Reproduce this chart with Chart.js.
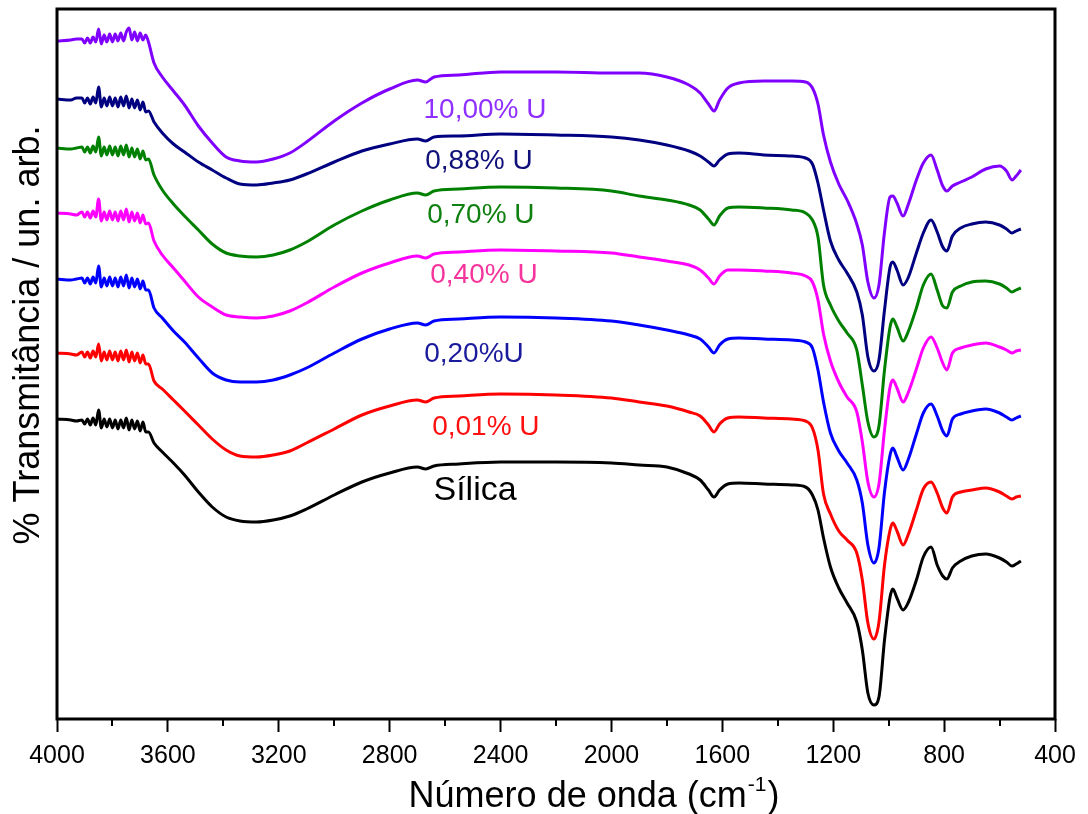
<!DOCTYPE html>
<html>
<head>
<meta charset="utf-8">
<script src="https://cdn.jsdelivr.net/npm/chart.js@4.4.1/dist/chart.umd.min.js"></script>
<style>
html,body{margin:0;padding:0;background:#fff;}
#wrap{width:1088px;height:814px;position:relative;}
</style>
</head>
<body>
<div id="wrap"><canvas id="c"></canvas></div>
<script>
// Wavenumber grid (cm^-1), shared by all spectra
const wavenumbers = [4000,3950,3930,3910,3900,3890,3880,3870,3860,3850,
  3840,3830,3820,3810,3800,3790,3780,3770,3760,3750,
  3740,3730,3720,3710,3700,3690,3680,3670,
  3650,3620,3580,3540,3490,3440,3390,3340,3280,3220,
  3160,3100,3000,2900,2800,2700,2670,2640,2550,2400,
  2200,2000,1900,1800,1720,1680,1650,1630,1610,1580,
  1540,1450,1350,1300,1275,1255,1235,1210,1180,1150,
  1115,1095,1075,1053,1035,1015,995,985,970,948,
  930,900,875,847,825,805,790,770,740,700,
  650,600,575,555,540,523];

// % Transmittance (arbitrary units, stacked)
const silica = [300,299,298,299,295,300,294,301,294,309,
  291,300,292,300,291,299,290,299,291,301,
  289,299,290,298,288,297,287,287,
  276,267,256,244,227,212,202,198,197,199,
  203,210,224,237,246,252,250,253,255,257,
  257,256,254,252,245,239,229,222,229,235,
  236,235,234,232,224,209,181,152,131,116,
  97,69,26,14,22,79,122,130,121,109,
  116,139,162,172,154,143,140,151,158,163,
  165,161,157,153,155,158];
const u001 = [366,365,364,367,362,367,361,368,362,375,
  358,367,359,368,359,367,358,368,359,369,
  357,367,358,366,356,364,355,355,
  338,330,319,308,294,280,269,263,262,264,
  268,276,290,304,313,319,317,321,323,325,
  324,321,317,313,307,303,294,287,295,301,
  302,301,300,298,291,269,225,205,188,179,
  166,139,96,80,97,154,189,196,188,174,
  184,209,230,237,226,211,206,222,227,229,
  231,227,223,220,222,223];
const u020 = [440,439,440,441,436,441,435,442,436,453,
  432,441,433,442,433,441,432,442,433,444,
  431,441,432,440,430,438,429,429,
  411,401,388,377,361,346,339,337,337,339,
  344,351,366,380,390,396,394,398,400,402,
  401,398,394,389,384,380,372,366,374,380,
  381,380,379,377,371,349,317,286,268,256,
  239,216,174,156,171,227,264,271,262,249,
  259,285,306,315,303,288,283,300,305,308,
  310,306,302,299,301,303];
const u040 = [506,505,504,507,502,507,501,508,502,520,
  498,507,499,508,499,507,498,508,499,510,
  497,507,498,506,496,504,495,496,
  478,464,451,438,422,412,404,402,401,403,
  408,416,432,446,456,463,461,465,467,469,
  468,466,462,458,454,449,441,435,443,449,
  449,448,446,443,437,419,385,358,337,322,
  307,277,237,222,235,289,332,339,331,317,
  326,350,371,382,371,356,349,366,371,374,
  376,372,369,366,368,369];
const u070 = [571,570,571,572,567,572,566,573,567,582,
  563,572,564,573,564,572,563,573,564,574,
  562,571,562,570,560,568,559,560,
  544,529,515,503,489,475,466,463,462,464,
  469,477,494,508,519,526,524,528,530,532,
  531,528,523,519,514,509,500,494,503,511,
  512,511,509,506,499,482,434,414,398,386,
  369,334,297,282,293,349,392,400,392,378,
  387,411,434,445,429,413,411,427,433,437,
  438,435,431,427,429,431];
const u088 = [620,619,621,621,616,621,615,622,616,632,
  612,621,613,622,613,621,612,622,613,623,
  611,620,611,619,609,617,607,608,
  597,586,575,567,557,549,541,535,534,536,
  539,545,557,568,575,580,578,582,583,585,
  584,582,579,574,568,563,557,553,559,565,
  566,564,563,561,555,536,509,478,459,446,
  427,404,362,348,359,409,452,457,449,434,
  441,466,486,499,487,472,468,483,491,495,
  497,494,490,486,488,490];
const u1000 = [678,679,680,680,676,681,676,682,677,690,
  675,684,677,685,677,685,678,686,678,687,
  691,679,687,678,686,679,684,677,
  656,642,628,614,593,576,562,558,557,560,
  566,577,598,616,630,639,637,642,644,647,
  647,646,646,642,634,626,615,608,619,631,
  636,638,638,637,631,615,584,557,535,519,
  495,474,437,421,434,487,522,523,516,503,
  514,539,556,564,549,533,528,533,537,542,
  550,553,548,539,543,549];

const seriesNames = ['Sílica','0,01% U','0,20%U','0,40% U','0,70% U','0,88% U','10,00% U'];
const seriesValues = [silica,u001,u020,u040,u070,u088,u1000];
const xTickValues = [4000,3600,3200,2800,2400,2000,1600,1200,800,400];
const xMinorTicks = [3800,3400,3000,2600,2200,1800,1400,1000,600];
const xTitle = ['Número de onda (cm', '-1', ')'];
const yTitle = '% Transmitância / un. arb.';

// styles (kept separate from data)
const lineColors = ['#000000','#ff0000','#0000ff','#ff00ff','#008000','#000080','#8000ff'];
const labelColors = ['#000000','#ff1010','#1a1a9c','#f5349c','#108010','#10107a','#9030ff'];
const labelFontSizes = [34,28,28,28,28,28,28];
// label anchor (center x in cm^-1, baseline in transmittance units)
const labelAnchors = [[2492,219],[2453,284],[2496,357],[2460,436],[2471,496],[2478,550],[2456,601]];

const FONT = 'Arial, "Liberation Sans", Helvetica, sans-serif';

const framePlugin = {
  id: 'frame',
  afterDatasetsDraw(chart) {
    const {ctx, chartArea: a, scales: {x, y}} = chart;
    ctx.save();
    ctx.strokeStyle = '#000';
    ctx.lineWidth = 3;
    ctx.strokeRect(a.left, a.top, a.right - a.left, a.bottom - a.top);
    ctx.lineWidth = 2;
    ctx.beginPath();
    xMinorTicks.forEach(v => {
      const px = Math.round(x.getPixelForValue(v));
      ctx.moveTo(px, a.bottom);
      ctx.lineTo(px, a.bottom + 7);
    });
    ctx.stroke();
    ctx.textAlign = 'center';
    ctx.textBaseline = 'alphabetic';
    seriesNames.forEach((n, i) => {
      ctx.font = labelFontSizes[i] + 'px ' + FONT;
      ctx.fillStyle = labelColors[i];
      ctx.fillText(n, x.getPixelForValue(labelAnchors[i][0]), y.getPixelForValue(labelAnchors[i][1]));
    });
    // x title with superscript
    ctx.fillStyle = '#000';
    ctx.textAlign = 'left';
    const big = '36px ' + FONT, small = '21px ' + FONT;
    ctx.font = big;
    const w1 = ctx.measureText(xTitle[0]).width;
    const w3 = ctx.measureText(xTitle[2]).width;
    ctx.font = small;
    const w2 = ctx.measureText(xTitle[1]).width;
    const sx = 593 - (w1 + w2 + w3) / 2;
    const by = 807;
    ctx.font = big;
    ctx.fillText(xTitle[0], sx, by);
    ctx.font = small;
    ctx.fillText(xTitle[1], sx + w1 + 1, by - 16);
    ctx.font = big;
    ctx.fillText(xTitle[2], sx + w1 + w2 + 2, by);
    // y title
    ctx.translate(29, 335);
    ctx.rotate(-Math.PI / 2);
    ctx.textAlign = 'center';
    ctx.textBaseline = 'middle';
    ctx.font = big;
    ctx.fillText(yTitle, 0, 0);
    ctx.restore();
  }
};

const datasets = seriesValues.map((vals, i) => ({
  label: seriesNames[i],
  data: wavenumbers.map((w, j) => ({x: w, y: vals[j]})),
  borderColor: lineColors[i],
  borderWidth: 3,
  pointRadius: 0,
  fill: false,
  cubicInterpolationMode: 'monotone'
}));

new Chart(document.getElementById('c'), {
  type: 'line',
  data: {datasets},
  options: {
    responsive: true,
    maintainAspectRatio: false,
    animation: false,
    layout: {padding: {top: 9, right: 33, left: 0, bottom: 0}},
    plugins: {legend: {display: false}, tooltip: {enabled: false}},
    scales: {
      x: {
        type: 'linear',
        reverse: true,
        min: 400,
        max: 4000,
        afterBuildTicks: s => { s.ticks = xTickValues.map(v => ({value: v})); },
        ticks: {
          autoSkip: false,
          maxRotation: 0,
          color: '#000',
          padding: 9,
          font: {size: 25, family: FONT},
          callback: v => String(v)
        },
        grid: {display: true, drawOnChartArea: false, drawTicks: true, tickLength: 13, tickWidth: 2, tickColor: '#000', color: '#000'},
        border: {display: false},
        afterFit: s => { s.height = 95; }
      },
      y: {
        min: 0,
        max: 710,
        ticks: {display: false},
        grid: {display: false},
        border: {display: false},
        afterFit: s => { s.width = 57; }
      }
    }
  },
  plugins: [framePlugin]
});
</script>
</body>
</html>
